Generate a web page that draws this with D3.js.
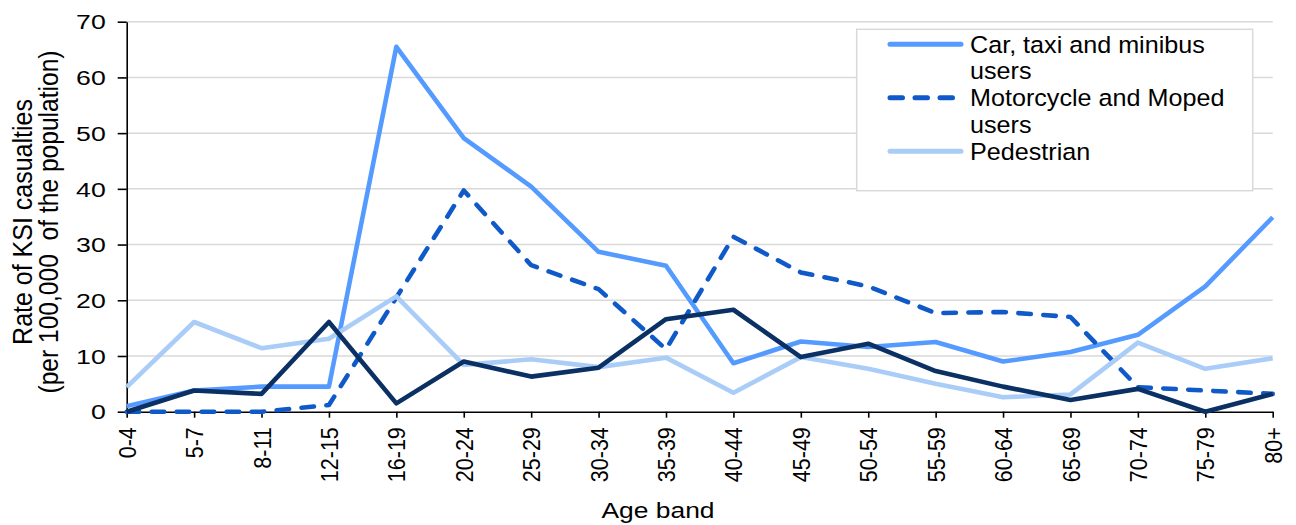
<!DOCTYPE html>
<html>
<head>
<meta charset="utf-8">
<script src="https://cdn.jsdelivr.net/npm/d3@7"></script>
<style>
  html, body { margin: 0; padding: 0; background: #fff; }
  svg { display: block; font-family: "Liberation Sans", Arial, sans-serif; }
</style>
</head>
<body>
<svg id="chart" width="1296" height="525"></svg>
<script>
const categories = ["0-4","5-7","8-11","12-15","16-19","20-24","25-29","30-34","35-39","40-44","45-49","50-54","55-59","60-64","65-69","70-74","75-79","80+"];
const carValues = [1.0,3.8,4.5,4.5,65.5,49.1,40.4,28.7,26.2,8.7,12.6,11.6,12.5,9.0,10.7,13.8,22.5,34.9];
const motorcycleValues = [0,0,0,1.2,20.5,39.7,26.3,22.0,11.2,31.4,25.0,22.5,17.7,17.9,17.0,4.4,3.8,3.2];
const pedestrianValues = [4.4,16.1,11.4,13.1,20.7,8.4,9.4,8.0,9.7,3.4,9.8,7.7,5.0,2.6,3.1,12.4,7.7,9.6];
const cyclistValues = [0,3.8,3.2,16.1,1.5,9.0,6.3,7.9,16.6,18.3,9.8,12.2,7.3,4.5,2.1,4.1,0,3.2];
const yTicks = [0,10,20,30,40,50,60,70];
const seriesNames = ["Car, taxi and minibus users","Motorcycle and Moped users","Pedestrian","Pedal cyclists"];

(function () {
const series = [
  {name: seriesNames[0], values: carValues, color: "#559BFF", dash: null, legend: ["Car, taxi and minibus","users"]},
  {name: seriesNames[1], values: motorcycleValues, color: "#0F5AC8", dash: "12.5,12.5", legend: ["Motorcycle and Moped","users"]},
  {name: seriesNames[2], values: pedestrianValues, color: "#AACDF8", dash: null, legend: ["Pedestrian"]},
  {name: seriesNames[3], values: cyclistValues, color: "#0A3064", dash: null, legend: null}
];

const svg = d3.select("#chart");
const plotLeft = 126.7, plotRight = 1272.7, plotTop = 21.7, plotBottom = 411.7;

const x = d3.scalePoint().domain(categories).range([plotLeft, plotRight]).padding(0);
const y = d3.scaleLinear().domain([0, 70]).range([plotBottom, plotTop]);

// gridlines
svg.append("g").selectAll("line")
  .data(yTicks.filter(d => d > 0))
  .join("line")
  .attr("x1", plotLeft).attr("x2", plotRight)
  .attr("y1", d => y(d)).attr("y2", d => y(d))
  .attr("stroke", "#D9D9D9").attr("stroke-width", 1.5);

// y axis
const yAxis = svg.append("g")
  .attr("transform", `translate(${plotLeft},0)`)
  .call(d3.axisLeft(y).tickValues(yTicks).tickSize(9).tickSizeOuter(0));
yAxis.select(".domain").attr("stroke", "#000").attr("stroke-width", 1.6);
yAxis.selectAll(".tick line").attr("stroke", "#000").attr("stroke-width", 1.6);
yAxis.selectAll(".tick text")
  .attr("x", 0).attr("dy", "0.35em")
  .attr("text-anchor", "end")
  .attr("transform", "translate(-21,0) scale(1.3,1)")
  .attr("font-size", 20.5).attr("fill", "#000")
  .attr("font-family", "Liberation Sans, Arial, sans-serif");

// x axis
const xAxis = svg.append("g")
  .attr("transform", `translate(0,${plotBottom})`)
  .call(d3.axisBottom(x).tickSize(6).tickSizeOuter(0));
xAxis.select(".domain").attr("stroke", "#000").attr("stroke-width", 1.6);
xAxis.selectAll(".tick line").attr("stroke", "#000").attr("stroke-width", 1.6);
xAxis.selectAll(".tick text")
  .attr("x", 0).attr("y", 0).attr("dy", "0.35em")
  .attr("text-anchor", "end")
  .attr("transform", "translate(0,15.5) scale(1.14,1) rotate(-90)")
  .attr("font-size", 21.5).attr("fill", "#000")
  .attr("font-family", "Liberation Sans, Arial, sans-serif");

// lines
const line = d3.line()
  .x((d, i) => x(categories[i]))
  .y(d => y(d));

svg.append("g").selectAll("path")
  .data(series)
  .join("path")
  .attr("d", d => line(d.values))
  .attr("fill", "none")
  .attr("stroke", d => d.color)
  .attr("stroke-width", 4.6)
  .attr("stroke-linejoin", "round")
  .attr("stroke-linecap", d => d.dash ? "round" : "butt")
  .attr("stroke-dasharray", d => d.dash);

// axis titles
svg.append("g")
  .attr("transform", "translate(658,518) scale(1.2,1)")
  .append("text")
  .attr("text-anchor", "middle")
  .attr("font-size", 22)
  .attr("fill", "#000")
  .text("Age band");

const yTitle = svg.append("g").attr("transform", "translate(0,222)");
yTitle.append("text")
  .attr("transform", "translate(32,0) scale(1.1,1) rotate(-90)")
  .attr("text-anchor", "middle")
  .attr("font-size", 25)
  .attr("fill", "#000")
  .text("Rate of KSI casualties");
yTitle.append("text")
  .attr("transform", "translate(58,0) scale(1.1,1) rotate(-90)")
  .attr("text-anchor", "middle")
  .attr("font-size", 24.6)
  .attr("fill", "#000")
  .style("white-space", "pre")
  .text("(per 100,000  of the population)");

// legend
const legend = svg.append("g");
legend.append("rect")
  .attr("x", 856.7).attr("y", 29.3)
  .attr("width", 396).attr("height", 161.4)
  .attr("fill", "#fff")
  .attr("stroke", "#D9D9D9").attr("stroke-width", 1.5);

const legendItems = series.filter(s => s.legend);
const lineH = 26.75;
let row = 0;
legendItems.forEach(s => {
  const baseY = 52.6 + row * lineH;
  const lineY = baseY - 8.3;
  legend.append("line")
    .attr("x1", 890).attr("x2", 961)
    .attr("y1", lineY).attr("y2", lineY)
    .attr("stroke", s.color)
    .attr("stroke-width", 5)
    .attr("stroke-linecap", "round")
    .attr("stroke-dasharray", s.dash ? "12.5,12.5" : null);
  s.legend.forEach((t, k) => {
    legend.append("g")
      .attr("transform", `translate(970,${baseY + k * lineH}) scale(1.08,1)`)
      .append("text")
      .attr("font-size", 23.3)
      .attr("fill", "#000")
      .text(t);
  });
  row += s.legend.length;
});
})();
</script>
</body>
</html>
